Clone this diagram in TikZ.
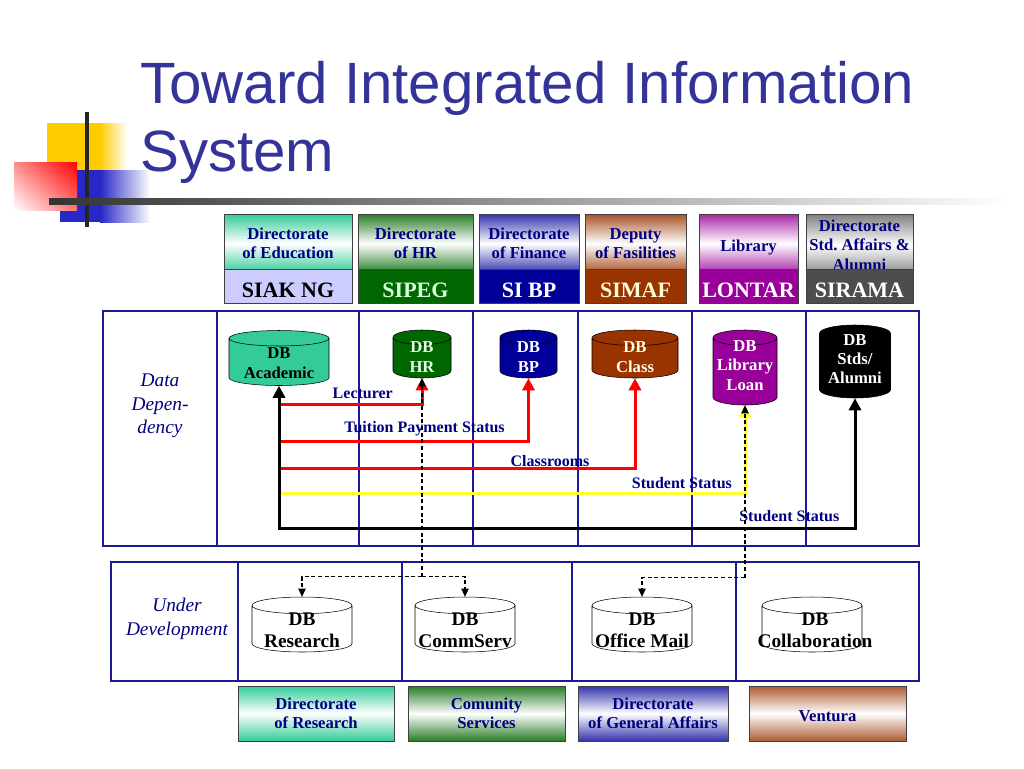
\documentclass[tikz,border=0pt]{standalone}
\usepackage{fontspec}
\setmainfont{Liberation Serif}
\newfontfamily\titlefont{Liberation Sans}
\usetikzlibrary{shapes.geometric,arrows.meta,positioning,shadings}

\definecolor{titleblue}{RGB}{51,51,153}
\definecolor{textnavy}{RGB}{0,0,128}
\definecolor{framenavy}{RGB}{25,25,150}
\definecolor{acadteal}{RGB}{51,204,153}
\definecolor{hrgreen}{RGB}{0,102,0}
\definecolor{bpnavy}{RGB}{0,0,153}
\definecolor{classbrown}{RGB}{153,51,0}
\definecolor{libpurple}{RGB}{153,0,153}
\definecolor{stdsgray}{RGB}{77,77,77}
\definecolor{stripblue}{RGB}{204,204,255}
\definecolor{stuyellow}{RGB}{255,255,51}
\definecolor{logoyellow}{RGB}{255,204,0}
\definecolor{logoblue}{RGB}{40,40,200}

\tikzset{
  headbox/.style={draw=black!75, inner sep=0pt, minimum height=41.25pt,
    top color=#1, bottom color=#1, middle color=white, text=textnavy,
    align=center, font=\fontsize{12.5}{14.5}\selectfont\bfseries},
  stripbox/.style={draw=black!75, inner sep=0pt, minimum height=25.5pt,
    text height=16pt, text depth=0pt,
    fill=#1, font=\fontsize{16.5}{18}\selectfont\bfseries},
  db/.style={cylinder, shape border rotate=90, draw=black, fill=#1,
    inner sep=0pt, anchor=shape center},
  dbtext/.style={font=\fontsize{12.5}{14.5}\selectfont\bfseries,
    align=center, inner sep=0pt},
  devtext/.style={font=\fontsize{14.5}{16.5}\selectfont\bfseries,
    align=center, inner sep=0pt},
  frame/.style={draw=framenavy, line width=1.1pt},
  sidetext/.style={font=\fontsize{14.5}{17.75}\selectfont\itshape,
    text=textnavy, align=center},
  flow/.style={draw=#1, line width=2.25pt, -{Triangle[width=9pt,length=9pt]}},
  dep/.style={draw=black, line width=0.9pt, dash pattern=on 3pt off 2pt,
    -{Triangle[width=5.5pt,length=6pt]}},
  flowlbl/.style={font=\fontsize{12}{14}\selectfont\bfseries, text=textnavy,
    inner sep=0pt}
}

\begin{document}
\begin{tikzpicture}[x=0.75pt, y=-0.75pt]
  \useasboundingbox (0,0) rectangle (1024,768);

  % logo
  \fill[logoyellow] (47,123) rectangle (100,171);
  \shade[left color=logoyellow, right color=white] (100,123) rectangle (127,171);
  \fill[logoblue] (60,170) rectangle (100,222);
  \shade[left color=logoblue, right color=white] (100,170) rectangle (150,222);
  \shade[upper left=red!45, upper right=red, lower left=white, lower right=red!55]
    (14,162) rectangle (77,210);
  \draw[line width=3pt, black!85] (87,112) -- (87,227);
  \shade[left color=black!80, right color=white] (49,198) rectangle (1010,204);

  % title
  \node[anchor=base west, inner sep=0pt, text=titleblue,
    font=\titlefont\fontsize{43.7}{50}\selectfont] (title) at (140,103)
    {Toward Integrated Information};
  \node[anchor=base west, inner sep=0pt, text=titleblue,
    font=\titlefont\fontsize{43.7}{50}\selectfont] (subtitle) at (140,171)
    {System};

  % systems
  \node[headbox=acadteal, minimum width=96pt, minimum height=44.25pt] (eduhead)
    at (288,243.5) {Directorate\\of Education};
  \node[stripbox=stripblue, text=black, minimum width=96pt, below=-3pt of eduhead]
    (siakng) {SIAK NG};
  \node[headbox=hrgreen!85, minimum width=86.25pt, minimum height=44.25pt] (hrhead)
    at (415.5,243.5) {Directorate\\of HR};
  \node[stripbox=hrgreen, text=green!15, minimum width=86.25pt, below=-3pt of hrhead]
    (sipeg) {SIPEG};
  \node[headbox=bpnavy!80, minimum width=75pt, minimum height=44.25pt] (finhead)
    at (529,243.5) {Directorate\\of Finance};
  \node[stripbox=bpnavy, text=white, minimum width=75pt, below=-3pt of finhead]
    (sibp) {SI BP};
  \node[headbox=classbrown!85, minimum width=75.75pt, minimum height=44.25pt] (fachead)
    at (635.5,243.5) {Deputy\\of Fasilities};
  \node[stripbox=classbrown, text=yellow!15, minimum width=75.75pt, below=-3pt of fachead]
    (simaf) {SIMAF};
  \node[headbox=libpurple!85, minimum width=74.25pt, minimum height=44.25pt,
    text height=12pt, text depth=0pt] (libhead) at (748.5,243.5) {Library};
  \node[stripbox=libpurple, text=white, minimum width=74.25pt, below=-3pt of libhead]
    (lontar) {LONTAR};
  \node[headbox=gray, minimum width=80.25pt, minimum height=46.5pt] (stdhead)
    at (859.5,245) {Directorate\\Std.~Affairs \&\\Alumni};
  \node[stripbox=stdsgray, text=white, minimum width=80.25pt, below=-5.25pt of stdhead]
    (sirama) {SIRAMA};

  % data dependency
  \draw[frame] (103,311) rectangle (919,546);
  \foreach \x in {217,359,473,578,692,806}
    \draw[frame] (\x,311) -- (\x,546);
  \node[sidetext] (datadep) at (160,406) {Data\\Depen-\\dency};

  \node[db=acadteal, text width=75pt, minimum height=41.25pt, aspect=0.155]
    (acad) at (279,358) {};
  \node[db=hrgreen, text width=43.5pt, minimum height=36pt, aspect=0.25]
    (hr) at (422,354) {};
  \node[db=bpnavy, text width=42.75pt, minimum height=36pt, aspect=0.25]
    (bp) at (528.5,354) {};
  \node[db=classbrown, text width=64.5pt, minimum height=36pt, aspect=0.18]
    (class) at (635,354) {};
  \node[db=libpurple, text width=48pt, minimum height=56.25pt, aspect=0.24]
    (lib) at (745,367.5) {};
  \node[db=black, text width=53.25pt, minimum height=54.75pt, aspect=0.235]
    (stds) at (855,361.5) {};

  \node[dbtext, text=black] (acadlbl) at (279,363) {DB\\Academic};
  \node[dbtext, text=green!10] (hrlbl) at (422,357) {DB\\HR};
  \node[dbtext, text=white] (bplbl) at (528.5,357) {DB\\BP};
  \node[dbtext, text=yellow!10] (classlbl) at (635,357) {DB\\Class};
  \node[dbtext, text=white] (liblbl) at (745,365.5) {DB\\Library\\Loan};
  \node[dbtext, text=white] (stdslbl) at (855,359) {DB\\Stds/\\Alumni};

  % under development
  \draw[frame] (111,562) rectangle (919,681);
  \foreach \x in {238,402,572,736}
    \draw[frame] (\x,562) -- (\x,681);
  \node[sidetext] (underdev) at (177,619) {Under\\Development};

  \node[db=white, text width=75pt, minimum height=41.25pt, aspect=0.167]
    (research) at (302,624.5) {};
  \node[db=white, text width=75pt, minimum height=41.25pt, aspect=0.167]
    (commserv) at (465,624.5) {};
  \node[db=white, text width=75pt, minimum height=41.25pt, aspect=0.167]
    (mail) at (642,624.5) {};
  \node[db=white, text width=75pt, minimum height=41.25pt, aspect=0.167]
    (collab) at (812,624.5) {};

  \node[devtext] (researchlbl) at (302,630) {DB\\Research};
  \node[devtext] (commservlbl) at (465,630) {DB\\CommServ};
  \node[devtext] (maillbl) at (642,630) {DB\\Office Mail};
  \node[devtext] (collablbl) at (815,630) {DB\\Collaboration};

  % owners
  \node[headbox=acadteal, minimum width=117pt] (resdir) at (316,713.5)
    {Directorate\\of Research};
  \node[headbox=hrgreen!85, minimum width=117.75pt] (commdir) at (486.5,713.5)
    {Comunity\\Services};
  \node[headbox=bpnavy!80, minimum width=112.5pt] (gadir) at (653,713.5)
    {Directorate\\of General Affairs};
  \node[headbox=classbrown!80, minimum width=117.75pt, text height=12pt,
    text depth=0pt] (ventura) at (827.5,713.5) {Ventura};

  % data flows
  \coordinate (lecstart) at (281,404);
  \coordinate (feestart) at (281,441);
  \coordinate (roomstart) at (281,468);
  \coordinate (stustart) at (281,493);
  \coordinate (stdsbase) at (stds.south |- 0,528);

  \draw[flow=red] (lecstart) -| node[flowlbl, pos=0.29, above=3pt] {Lecturer} (hr.south);
  \draw[flow=red] (feestart) -| node[flowlbl, pos=0.29, above=3pt] {Tuition Payment Status} (bp.south);
  \draw[flow=red] (roomstart) -| node[flowlbl, pos=0.38, above=0pt] {Classrooms} (class.south);
  \draw[flow=stuyellow] (stustart) -| node[flowlbl, pos=0.432, above=2pt] {Student Status} (lib.south);
  \draw[flow=black, {Triangle[width=9pt,length=9pt]}-{Triangle[width=9pt,length=9pt]}]
    (acad.south) |- node[flowlbl, pos=0.943, above=3.5pt] {Student Status} (stdsbase) -- (stds.south);

  % planned links
  \path (hr.south |- research.north) ++(0,-20) coordinate (hrsplit);
  \draw[dep] (hrsplit) -- (hr.south);
  \draw[dep] (hrsplit) -| (research.north);
  \draw[dep] (hrsplit) -| (commserv.north);
  \path (lib.south |- mail.north) ++(0,-19) coordinate (libsplit);
  \draw[dep] (libsplit) -- (lib.south);
  \draw[dep] (libsplit) -| (mail.north);
\end{tikzpicture}
\end{document}
